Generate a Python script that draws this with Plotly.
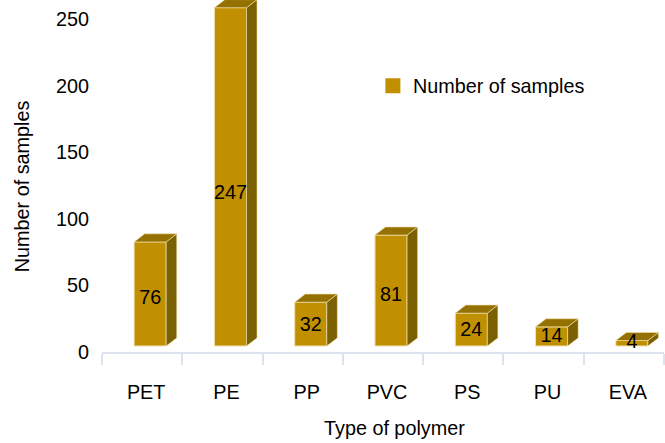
import plotly.graph_objects as go

categories = ["PET", "PE", "PP", "PVC", "PS", "PU", "EVA"]
samples = [76, 247, 32, 81, 24, 14, 4]
y_ticks = [0, 50, 100, 150, 200, 250]

FONT = "Liberation Sans"
FS = 19.8
FRONT, SIDE, TOP, EDGE = "#C09000", "#7A6000", "#947100", "#F3E2AE"
OFFSET, WIDTH, DX, DY = 0.1, 0.4, 0.131, 5.9
positions = list(range(len(categories)))
xs = [p + OFFSET for p in positions]

side_x, side_y, top_x, top_y = [], [], [], []
for x, v in zip(xs, samples):
    r = x + WIDTH / 2
    l = x - WIDTH / 2
    side_x += [r, r + DX, r + DX, r, r, None]
    side_y += [0, DY, v + DY, v, 0, None]
    top_x += [l, l + DX, r + DX, r, l, None]
    top_y += [v, v + DY, v + DY, v, v, None]

fig = go.Figure()
fig.add_trace(go.Scatter(x=side_x, y=side_y, mode="lines", fill="toself", fillcolor=SIDE,
                         line=dict(color=EDGE, width=0.6), showlegend=False, hoverinfo="skip"))
fig.add_trace(go.Scatter(x=top_x, y=top_y, mode="lines", fill="toself", fillcolor=TOP,
                         line=dict(color=EDGE, width=0.6), showlegend=False, hoverinfo="skip"))
fig.add_trace(go.Bar(x=xs, y=samples, width=WIDTH, name="Number of samples", showlegend=False,
                     marker=dict(color=FRONT, line=dict(color=EDGE, width=1))))
# legend entry with the larger swatch of the reference
fig.add_trace(go.Bar(x=[None], y=[None], name="Number of samples",
                     marker=dict(color=FRONT, line=dict(color=FRONT, width=3))))
fig.add_trace(go.Scatter(x=xs, y=[v * 0.45 for v in samples], mode="text",
                         text=[str(v) for v in samples], textposition="middle center",
                         textfont=dict(family=FONT, size=FS, color="#000"), showlegend=False,
                         hoverinfo="skip"))
# axis for the printed scale
fig.add_trace(go.Scatter(x=[0], y=[0], yaxis="y2", mode="markers", marker=dict(opacity=0),
                         showlegend=False, hoverinfo="skip"))

fig.update_layout(
    width=665, height=443, margin=dict(l=102, r=1, t=0, b=91),
    paper_bgcolor="white", plot_bgcolor="white",
    font=dict(family=FONT, size=FS, color="#000"),
    barmode="overlay",
    xaxis=dict(range=[-0.5, 6.5], tickvals=[p + 0.05 for p in positions], ticktext=categories,
               showgrid=False, zeroline=False, showline=True, linecolor="#DDE3EE", linewidth=2,
               ticks="outside", ticklen=21, tickcolor="rgba(0,0,0,0)",
               minor=dict(tickvals=[p - 0.5 for p in positions] + [6.5], ticks="outside",
                          ticklen=11, tickcolor="#DDE3EE", tickwidth=2, showgrid=False)),
    yaxis=dict(range=[-4.38, 252.6], visible=False),
    yaxis2=dict(range=[0, 264.3], overlaying="y", side="left", tickvals=y_ticks,
                showgrid=False, zeroline=False, showline=False, ticks="outside", ticklen=8,
                tickcolor="rgba(0,0,0,0)"),
    legend=dict(x=0.482, y=0.756, xanchor="left", yanchor="middle", bgcolor="rgba(0,0,0,0)",
                font=dict(size=FS), itemwidth=30),
    annotations=[
        dict(text="Type of polymer", xref="paper", yref="paper", x=0.521, y=-0.216,
             xanchor="center", yanchor="middle", showarrow=False, font=dict(size=FS)),
        dict(text="Number of samples", xref="paper", yref="paper", x=-0.142, y=0.4716,
             xanchor="center", yanchor="middle", textangle=-90, showarrow=False,
             font=dict(size=FS)),
    ],
)
fig.write_html("out.html", config=dict(displayModeBar=False),
               post_script="document.body.style.margin='0';")
